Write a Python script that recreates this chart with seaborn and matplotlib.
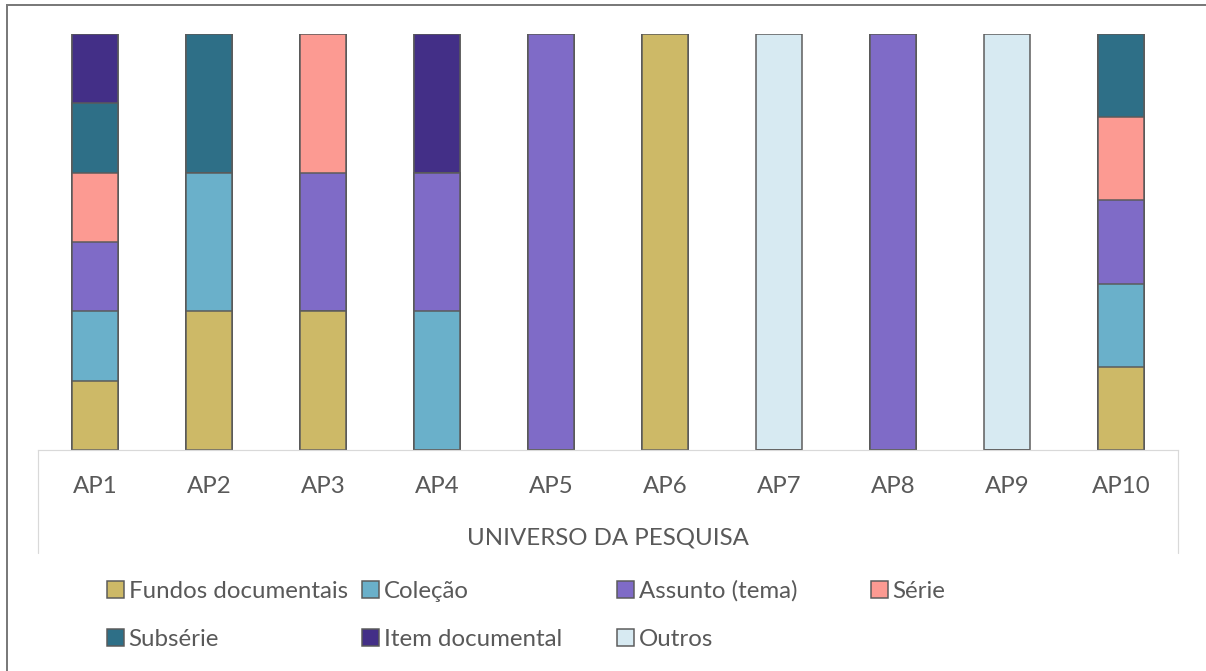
import matplotlib
matplotlib.use("Agg")
import matplotlib.pyplot as plt
import seaborn as sns
import pandas as pd
from matplotlib.patches import Patch, Rectangle
from matplotlib.lines import Line2D

# --- data -------------------------------------------------------------
categories = ["AP1", "AP2", "AP3", "AP4", "AP5", "AP6", "AP7", "AP8", "AP9", "AP10"]
series_names = ["Fundos documentais", "Coleção", "Assunto (tema)", "Série",
                "Subsérie", "Item documental", "Outros"]

fundos   = [1, 1, 1, 0, 0, 1, 0, 0, 0, 1]
colecao  = [1, 1, 0, 1, 0, 0, 0, 0, 0, 1]
assunto  = [1, 0, 1, 1, 1, 0, 0, 1, 0, 1]
serie    = [1, 0, 1, 0, 0, 0, 0, 0, 0, 1]
subserie = [1, 1, 0, 0, 0, 0, 0, 0, 0, 1]
item     = [1, 0, 0, 1, 0, 0, 0, 0, 0, 0]
outros   = [0, 0, 0, 0, 0, 0, 1, 0, 1, 0]

series_colors = ["#CDB967", "#6AB0CA", "#7F6BC7", "#FC9A92",
                 "#2E6F87", "#432F87", "#D7EAF2"]
axis_title = "UNIVERSO DA PESQUISA"

# --- style ------------------------------------------------------------
sns.set_style("white")
plt.rcParams["font.family"] = ["Lato", "DejaVu Sans"]
TEXT = "#595959"
EDGE = "#5A5A5A"
GRID = "#D9D9D9"
FS = 24

W, H = 1206, 671
DPI = 72
fig = plt.figure(figsize=(W / DPI, H / DPI), dpi=DPI)
fig.patch.set_facecolor("white")

# outer chart frame
fig.patches.append(Rectangle((7 / W, -0.1), 1.2, 1 - 5 / H + 0.1,
                             transform=fig.transFigure, fill=False,
                             edgecolor="#7A7A7A", linewidth=2, zorder=0))

ax = fig.add_axes([38 / W, 1 - 450 / H, (1178 - 38) / W, 416 / H])

# --- 100% stacked bars -------------------------------------------------
counts = pd.DataFrame(dict(zip(series_names,
                               [fundos, colecao, assunto, serie, subserie, item, outros])),
                      index=categories)
shares = counts.div(counts.sum(axis=1), axis=0) * 100
cumulative = shares.cumsum(axis=1)

# draw cumulative totals from the top of the stack downwards
for name, color in reversed(list(zip(series_names, series_colors))):
    sns.barplot(x=categories, y=cumulative[name].values, order=categories,
                color=color, saturation=1, width=0.41, errorbar=None,
                edgecolor=EDGE, linewidth=1.5, ax=ax)

ax.set_xlim(-0.5, len(categories) - 0.5)
ax.set_ylim(0, 100)
ax.set_yticks([])
ax.set_ylabel("")
for side in ("left", "right", "top"):
    ax.spines[side].set_visible(False)
ax.spines["bottom"].set_color(GRID)
ax.spines["bottom"].set_linewidth(1.2)
ax.tick_params(axis="x", length=0, pad=26, labelsize=FS, labelcolor=TEXT)

ax.set_xlabel(axis_title, fontsize=FS, color=TEXT)
ax.xaxis.set_label_coords(0.5, (450 - 527) / 416)

# category box side lines
box_depth = -(553 - 450) / 416
for xa in (0, 1):
    ax.add_line(Line2D([xa, xa], [0, box_depth], transform=ax.transAxes,
                       color=GRID, linewidth=1.2, clip_on=False))

# --- legend (fixed-width columns, filled row by row) -------------------
col_x = [107, 362, 617, 871]
row_y = [591, 639]
for i, (name, color) in enumerate(zip(series_names, series_colors)):
    r, c = divmod(i, 4)
    handle = Patch(facecolor=color, edgecolor=EDGE, linewidth=1.5)
    fig.legend(handles=[handle], labels=[name], loc="center left",
               bbox_to_anchor=(col_x[c] / W, 1 - row_y[r] / H),
               frameon=False, fontsize=FS, labelcolor=TEXT,
               handlelength=0.7, handleheight=0.7, handletextpad=0.2,
               borderpad=0, borderaxespad=0)

fig.savefig("out.png", dpi=DPI)
